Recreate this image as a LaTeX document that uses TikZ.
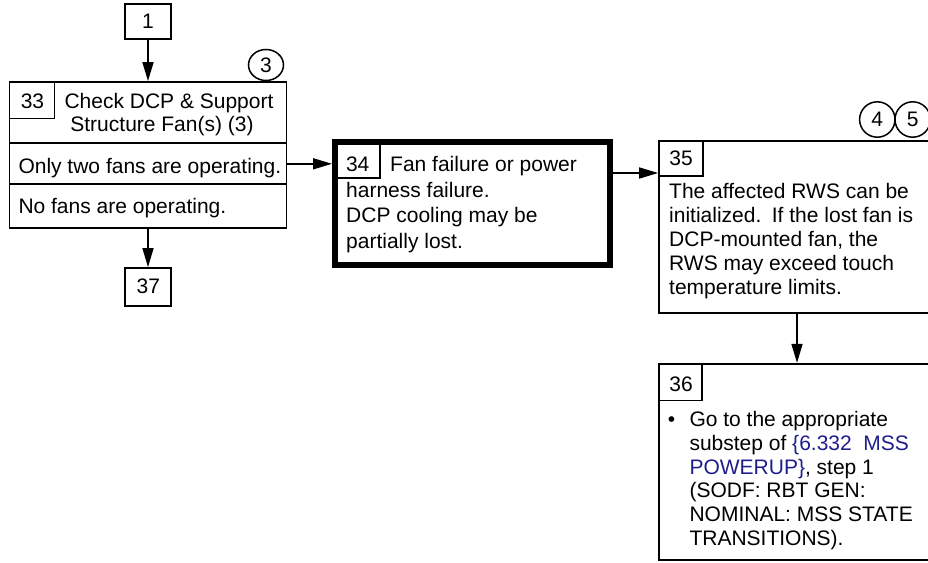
\documentclass[tikz,border=0pt]{standalone}
\usepackage{fontspec}
\setmainfont{Liberation Sans}
\usetikzlibrary{arrows.meta,shapes.geometric}
\definecolor{linkblue}{RGB}{30,30,140}
\newcommand\fsz{\fontsize{21}{24}\selectfont}
\tikzset{
  boxwh/.style 2 args={draw, line width=1.8pt, inner sep=0pt, minimum width=#1, minimum height=#2, rectangle},
  thickbox/.style 2 args={draw, line width=6pt, inner sep=0pt, minimum width=#1, minimum height=#2, rectangle},
  oval/.style 2 args={draw, line width=1.5pt, ellipse, inner sep=0pt, minimum width=#1, minimum height=#2, font=\fsz},
  txt/.style={inner sep=0pt, anchor=base west, font=\fsz},
  ctxt/.style={inner sep=0pt, anchor=base, font=\fsz},
  arr/.style={draw, line width=1.6pt, -{Triangle[length=19pt,width=11pt]}},
}
\begin{document}
\begin{tikzpicture}[x=1pt,y=-1pt]
\useasboundingbox (0,0) rectangle (928,562);
\clip (0,0) rectangle (928,562);

% box 1
\node[boxwh={46.5pt}{35.3pt}] (b1) at (148,21.3) {};
\node[ctxt] (t1) at (148,28.3) {1};

% box 33
\node[boxwh={277pt}{146.3pt}] (b33) at (148,155.15) {};
\node[boxwh={277pt}{41pt}] (row2) at (148,163.8) {};
\draw[line width=1.8pt] (9.5,82) rectangle (54.5,118.5) coordinate (n33corner);
\node[ctxt] (t33) at (32.5,108.7) {33};
\node[ctxt] (t33a) at (169,108.7) {Check DCP \& Support};
\node[ctxt] (t33b) at (162,131) {Structure Fan(s) (3)};
\node[txt] (t33c) at (18.3,173.3) {Only two fans are operating.};
\node[txt] (t33d) at (18.3,213.3) {No fans are operating.};
\node[oval={35pt}{31pt}] (c3) at (266,65) {3};

% box 37
\node[boxwh={46.5pt}{38pt}] (b37) at (148,287) {};
\node[ctxt] (t37) at (148.3,293.3) {37};

% box 34
\node[thickbox={274.5pt}{122.5pt}] (b34) at (472.25,203.25) {};
\draw[line width=1.8pt] (335,142) rectangle (380.3,177.7);
\node[ctxt] (t34) at (357.7,171.7) {34};
\node[txt] (t34a) at (390,171.7) {Fan failure or power};
\node[txt] (t34b) at (346,197.3) {harness failure.};
\node[txt] (t34c) at (346,222.7) {DCP cooling may be};
\node[txt] (t34d) at (346,248.3) {partially lost.};

% box 35
\node[boxwh={276pt}{172pt}] (b35) at (797,227) {};
\draw[line width=1.8pt] (659,141) rectangle (703,176.3);
\node[ctxt] (t35) at (681,165.7) {35};
\node[txt] (t35a) at (669,198.5) {The affected RWS can be};
\node[txt] (t35b) at (669,222.5) {initialized.\hspace{0.5em}If the lost fan is};
\node[txt] (t35c) at (669,246.5) {DCP-mounted fan, the};
\node[txt] (t35d) at (669,270.5) {RWS may exceed touch};
\node[txt] (t35e) at (669,294.5) {temperature limits.};
\node[oval={35.4pt}{35.4pt}] (c4) at (877.3,119.5) {4};
\node[oval={35.4pt}{35.4pt}] (c5) at (912.7,119.5) {5};

% box 36
\node[boxwh={276pt}{196pt}] (b36) at (797,461.75) {};
\draw[line width=1.8pt] (659,363.8) rectangle (702.3,400.5);
\node[ctxt] (t36) at (681,391) {36};
\node[ctxt] (bul) at (671.5,426) {\textbullet};
\node[txt] (t36a) at (689.3,426) {Go to the appropriate};
\node[txt] (t36b) at (689.3,450) {substep of \textcolor{linkblue}{\{6.332\hspace{0.55em}MSS}};
\node[txt] (t36c) at (689.3,474) {\textcolor{linkblue}{POWERUP\}}, step 1};
\node[txt] (t36d) at (689.3,497.7) {(SODF: RBT GEN:};
\node[txt] (t36e) at (689.3,521.6) {NOMINAL: MSS STATE};
\node[txt] (t36f) at (689.3,545.5) {TRANSITIONS).};

% connectors
\coordinate (a35) at (659,173);
\draw[arr] (b1.south) -- (b33.north);
\draw[arr] (b33.south) -- (b37.north);
\draw[arr] (row2.east) -- (row2.east -| b34.west);
\draw[arr] (a35 -| b34.east) -- (b35.west |- a35);
\draw[arr] (b35.south) -- (b36.north);
\end{tikzpicture}
\end{document}
